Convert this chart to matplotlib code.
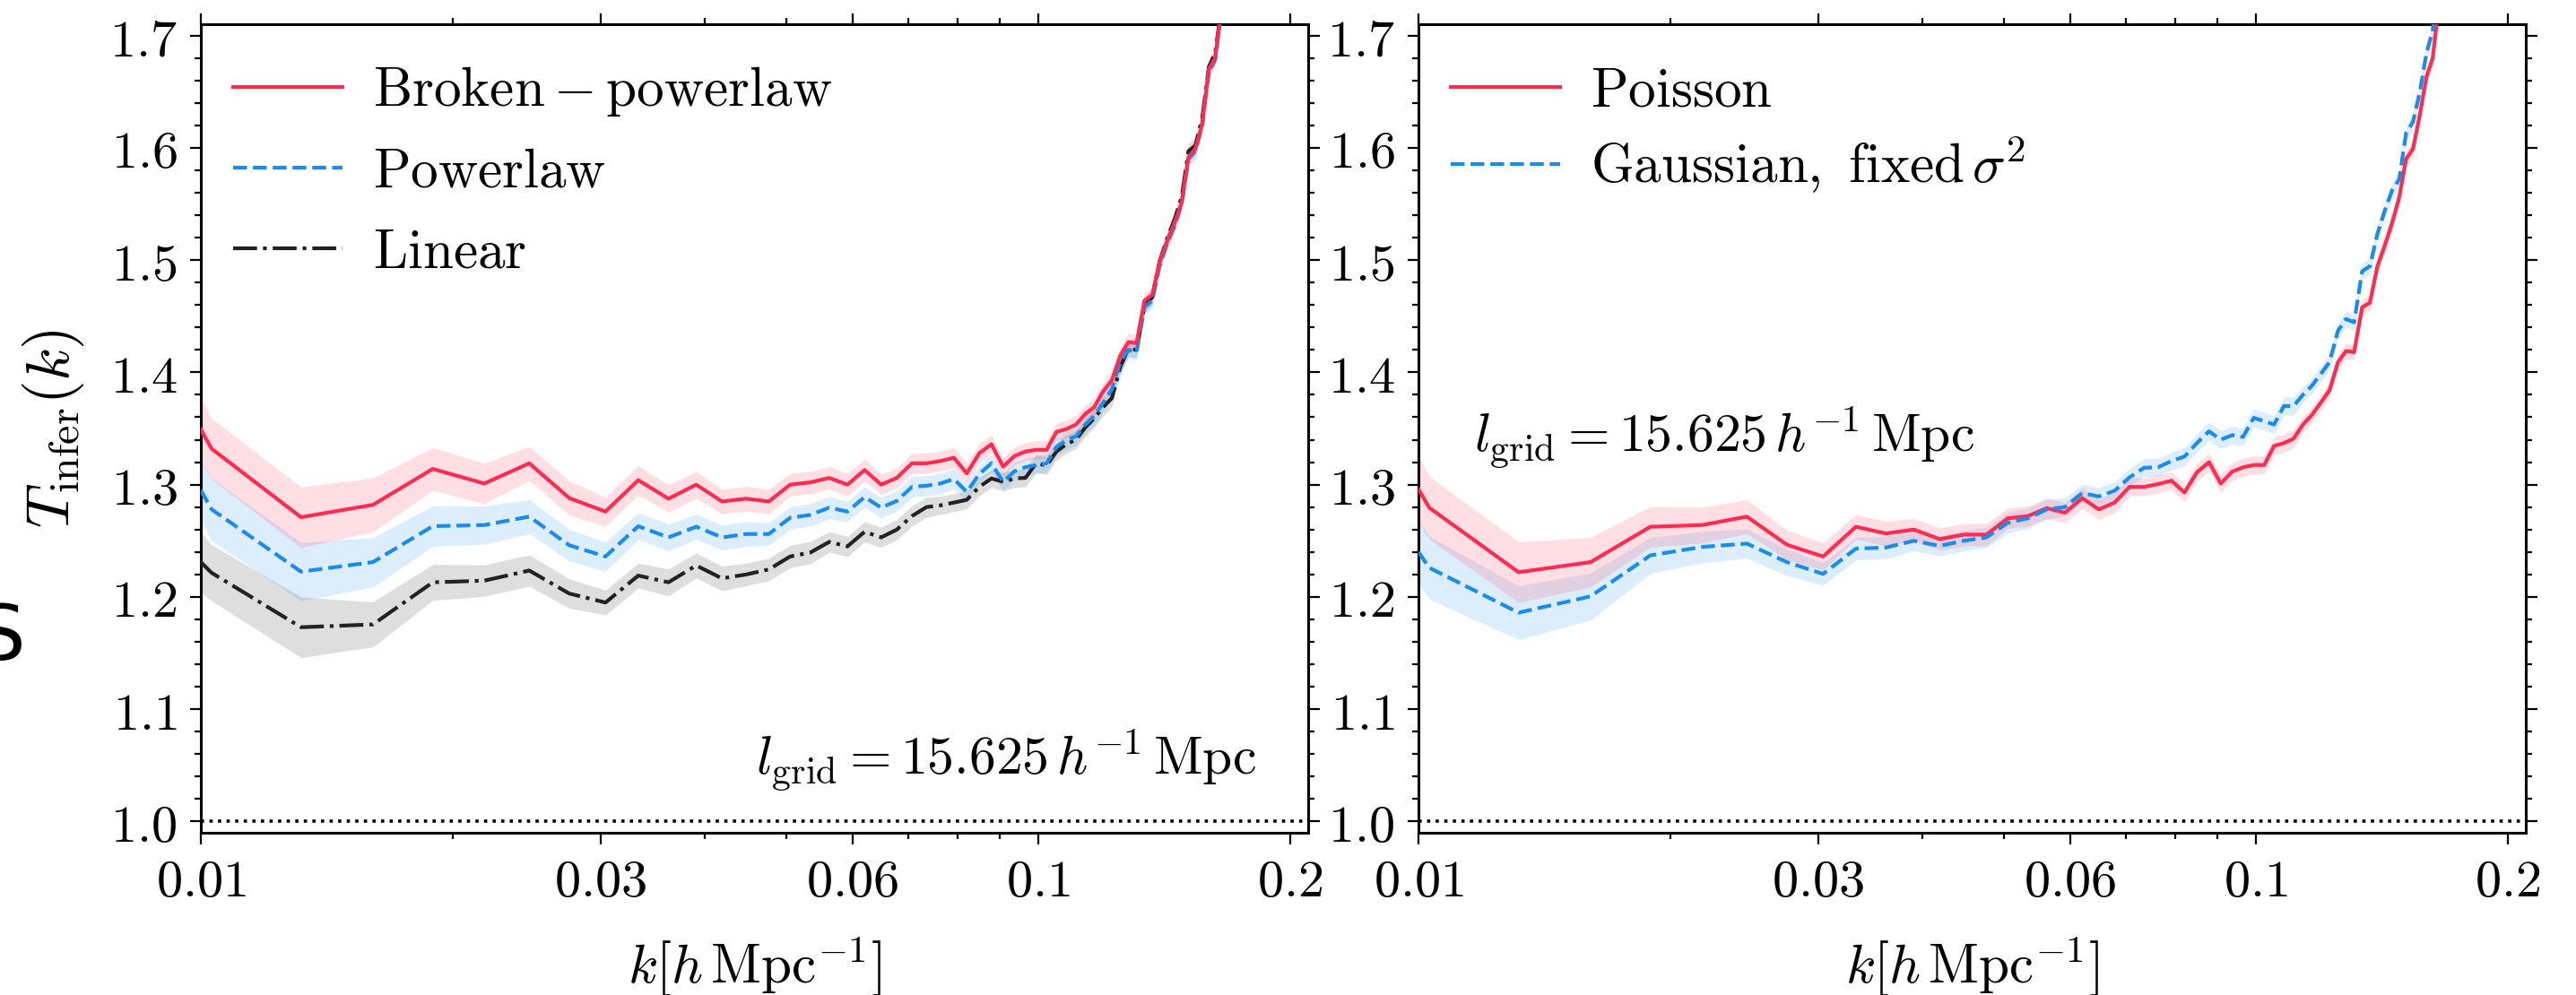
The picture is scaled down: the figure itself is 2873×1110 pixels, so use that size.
import matplotlib
matplotlib.use("Agg")
import matplotlib.pyplot as plt
from matplotlib.ticker import MultipleLocator, NullFormatter

plt.rcParams['mathtext.fontset'] = 'cm'
plt.rcParams['font.family'] = ['DejaVu Sans']

# ---------------- data ----------------
k = [0.0100,
     0.0103, 0.01317, 0.01605, 0.01892, 0.0218, 0.02467, 0.02754, 0.03042, 0.03329, 0.03617,
     0.03904, 0.04191, 0.04479, 0.04766, 0.05054, 0.05341, 0.05628, 0.05916, 0.06203, 0.06491,
     0.06778, 0.07065, 0.07353, 0.0764, 0.07928, 0.08215, 0.08502, 0.0879, 0.09077, 0.09365,
     0.09652, 0.09939, 0.1023, 0.1051, 0.108, 0.1109, 0.1138, 0.1166, 0.1195, 0.1224,
     0.1253, 0.1281, 0.131, 0.1339, 0.1368, 0.1396, 0.1425, 0.1454, 0.1483, 0.1511,
     0.154, 0.1569, 0.1598, 0.1626, 0.1655, 0.1684]

# left panel: Broken-powerlaw
t_bpl = [1.349,
         1.332, 1.271, 1.282, 1.314, 1.301, 1.319, 1.288, 1.276, 1.304, 1.2875,
         1.300, 1.285, 1.2875, 1.285, 1.300, 1.302, 1.306, 1.300, 1.313, 1.300,
         1.306, 1.319, 1.319, 1.321, 1.324, 1.310, 1.328, 1.336, 1.316, 1.3255,
         1.3295, 1.331, 1.331, 1.347, 1.3495, 1.3535, 1.363, 1.369, 1.383, 1.393,
         1.415, 1.427, 1.426, 1.464, 1.469, 1.499, 1.517, 1.533, 1.551, 1.592,
         1.599, 1.621, 1.670, 1.680, 1.725, 1.80]
e_bpl = [0.029,
         0.027, 0.027, 0.024, 0.019, 0.018, 0.015, 0.015, 0.013, 0.013, 0.012,
         0.012, 0.011, 0.011, 0.011, 0.010, 0.010, 0.010, 0.010, 0.010, 0.009,
         0.009, 0.009, 0.009, 0.009, 0.009, 0.009, 0.009, 0.008, 0.008, 0.008,
         0.008, 0.008, 0.008, 0.008, 0.008, 0.008, 0.008, 0.008, 0.008, 0.008,
         0.008, 0.008, 0.007, 0.007, 0.007, 0.007, 0.007, 0.007, 0.007, 0.007,
         0.007, 0.007, 0.007, 0.007, 0.007, 0.007]

# left panel: Powerlaw
t_pl = [1.295,
        1.278, 1.2225, 1.231, 1.263, 1.264, 1.2715, 1.246, 1.236, 1.263, 1.253,
        1.2625, 1.253, 1.256, 1.256, 1.2705, 1.273, 1.2795, 1.276, 1.289, 1.2795,
        1.2855, 1.298, 1.299, 1.301, 1.305, 1.2935, 1.3095, 1.319, 1.3025, 1.312,
        1.3155, 1.3175, 1.319, 1.3335, 1.3395, 1.343, 1.3535, 1.361, 1.373, 1.385,
        1.409, 1.420, 1.418, 1.458, 1.464, 1.495, 1.515, 1.530, 1.550, 1.590,
        1.597, 1.620, 1.668, 1.678, 1.722, 1.80]
e_pl = [0.027,
        0.028, 0.026, 0.022, 0.018, 0.017, 0.015, 0.014, 0.013, 0.012, 0.012,
        0.011, 0.011, 0.011, 0.010, 0.010, 0.010, 0.010, 0.009, 0.009, 0.009,
        0.009, 0.009, 0.009, 0.009, 0.009, 0.008, 0.008, 0.008, 0.008, 0.008,
        0.008, 0.008, 0.008, 0.008, 0.008, 0.008, 0.008, 0.008, 0.008, 0.008,
        0.008, 0.007, 0.007, 0.007, 0.007, 0.007, 0.007, 0.007, 0.007, 0.007,
        0.007, 0.007, 0.007, 0.007, 0.007, 0.007]

# left panel: Linear
t_lin = [1.231,
         1.2215, 1.173, 1.1755, 1.213, 1.2145, 1.2235, 1.203, 1.195, 1.219, 1.213,
         1.228, 1.2165, 1.220, 1.2245, 1.236, 1.2395, 1.249, 1.245, 1.258, 1.253,
         1.260, 1.272, 1.280, 1.2815, 1.284, 1.2865, 1.298, 1.3055, 1.3025, 1.3055,
         1.306, 1.319, 1.317, 1.3295, 1.336, 1.340, 1.351, 1.359, 1.369, 1.377,
         1.405, 1.421, 1.420, 1.460, 1.467, 1.499, 1.519, 1.536, 1.556, 1.597,
         1.602, 1.626, 1.672, 1.684, 1.726, 1.80]
e_lin = [0.027,
         0.025, 0.027, 0.020, 0.016, 0.014, 0.014, 0.013, 0.011, 0.011, 0.012,
         0.011, 0.011, 0.010, 0.010, 0.010, 0.010, 0.009, 0.009, 0.009, 0.009,
         0.009, 0.009, 0.009, 0.008, 0.008, 0.008, 0.008, 0.008, 0.008, 0.008,
         0.008, 0.008, 0.008, 0.008, 0.008, 0.008, 0.008, 0.008, 0.008, 0.008,
         0.008, 0.007, 0.007, 0.007, 0.007, 0.007, 0.007, 0.007, 0.007, 0.007,
         0.007, 0.007, 0.007, 0.007, 0.007, 0.007]

# right panel: Poisson
t_poi = [1.296,
         1.2795, 1.222, 1.231, 1.2625, 1.264, 1.2715, 1.2465, 1.236, 1.2625, 1.2565,
         1.260, 1.2515, 1.2555, 1.2555, 1.270, 1.272, 1.279, 1.275, 1.288, 1.278,
         1.284, 1.298, 1.298, 1.3005, 1.3035, 1.293, 1.311, 1.320, 1.301, 1.3115,
         1.3155, 1.3175, 1.3175, 1.3345, 1.337, 1.341, 1.3535, 1.362, 1.373, 1.384,
         1.409, 1.419, 1.418, 1.458, 1.462, 1.494, 1.513, 1.533, 1.556, 1.590,
         1.599, 1.629, 1.663, 1.680, 1.73, 1.80]
e_poi = [0.029,
         0.028, 0.027, 0.022, 0.018, 0.016, 0.015, 0.013, 0.012, 0.011, 0.011,
         0.010, 0.010, 0.010, 0.010, 0.009, 0.009, 0.009, 0.009, 0.009, 0.009,
         0.009, 0.008, 0.008, 0.008, 0.008, 0.008, 0.008, 0.008, 0.008, 0.008,
         0.008, 0.008, 0.008, 0.008, 0.008, 0.008, 0.007, 0.007, 0.007, 0.007,
         0.007, 0.007, 0.007, 0.007, 0.007, 0.007, 0.007, 0.007, 0.007, 0.007,
         0.007, 0.007, 0.007, 0.007, 0.007, 0.007]

# right panel: Gaussian, fixed sigma^2
t_gau = [1.240,
         1.226, 1.186, 1.2005, 1.237, 1.2445, 1.2475, 1.231, 1.2205, 1.243, 1.244,
         1.250, 1.2455, 1.250, 1.253, 1.266, 1.270, 1.278, 1.280, 1.2925, 1.2895,
         1.2945, 1.3065, 1.315, 1.3155, 1.321, 1.325, 1.337, 1.3475, 1.340, 1.344,
         1.3425, 1.3595, 1.3565, 1.3535, 1.370, 1.370, 1.380, 1.388, 1.3985, 1.409,
         1.437, 1.4475, 1.4445, 1.490, 1.4945, 1.523, 1.544, 1.562, 1.572, 1.613,
         1.623, 1.6495, 1.684, 1.705, 1.76, 1.84]
e_gau = [0.028,
         0.028, 0.024, 0.021, 0.016, 0.014, 0.013, 0.012, 0.010, 0.010, 0.010,
         0.009, 0.009, 0.009, 0.009, 0.009, 0.009, 0.009, 0.008, 0.008, 0.008,
         0.008, 0.008, 0.008, 0.008, 0.008, 0.008, 0.008, 0.008, 0.008, 0.008,
         0.008, 0.008, 0.008, 0.008, 0.008, 0.008, 0.007, 0.007, 0.007, 0.007,
         0.007, 0.007, 0.007, 0.007, 0.007, 0.007, 0.007, 0.007, 0.007, 0.007,
         0.007, 0.007, 0.007, 0.007, 0.007, 0.007]

xticks_major = [0.01, 0.03, 0.06, 0.1, 0.2]
xtick_labels = ['$0.01$', '$0.03$', '$0.06$', '$0.1$', '$0.2$']
xticks_minor = [0.02, 0.04, 0.05, 0.07, 0.08, 0.09]
yticks = [1.0, 1.1, 1.2, 1.3, 1.4, 1.5, 1.6, 1.7]
ytick_labels = ['$1.0$', '$1.1$', '$1.2$', '$1.3$', '$1.4$', '$1.5$', '$1.6$', '$1.7$']

left_labels = [r'$\mathrm{Broken-powerlaw}$', r'$\mathrm{Powerlaw}$', r'$\mathrm{Linear}$']
right_labels = [r'$\mathrm{Poisson}$', r'$\mathrm{Gaussian,\ fixed}\,\sigma^2$']
annot = r'$l_{\rm grid}=15.625\,h^{-1}\,{\rm Mpc}$'

# ---------------- style ----------------
RED = '#FF2B50'
BLUE = '#1A8CEC'
BLACK = '#222222'
W, H = 2873, 1110

fig = plt.figure(figsize=(W / 100, H / 100), dpi=100)
axL = fig.add_axes([224 / W, 181 / H, 1235 / W, 902 / H])
axR = fig.add_axes([1582 / W, 181 / H, 1235 / W, 902 / H])


def band(ax, y, e, color, alpha, z):
    lo = [a - b for a, b in zip(y, e)]
    hi = [a + b for a, b in zip(y, e)]
    ax.fill_between(k, lo, hi, color=color, alpha=alpha, lw=0, zorder=z)


# left panel
band(axL, t_lin, e_lin, BLACK, 0.15, 1)
band(axL, t_pl, e_pl, BLUE, 0.15, 1)
band(axL, t_bpl, e_bpl, RED, 0.15, 1)
l3, = axL.plot(k, t_lin, color=BLACK, ls='-.', lw=3, zorder=3)
l2, = axL.plot(k, t_pl, color=BLUE, ls='--', lw=3, zorder=4)
l1, = axL.plot(k, t_bpl, color=RED, ls='-', lw=3, zorder=5)

# right panel
band(axR, t_gau, e_gau, BLUE, 0.15, 1)
band(axR, t_poi, e_poi, RED, 0.15, 1)
r1, = axR.plot(k, t_poi, color=RED, ls='-', lw=3, zorder=4)
r2, = axR.plot(k, t_gau, color=BLUE, ls='--', lw=3, zorder=5)

for ax in (axL, axR):
    ax.axhline(1.0, color='black', ls=':', lw=2.6, zorder=2)
    ax.set_xscale('log')
    ax.set_xlim(0.01, 0.21)
    ax.set_ylim(0.99, 1.71)
    ax.set_xticks(xticks_major)
    ax.set_xticklabels(xtick_labels)
    ax.set_xticks(xticks_minor, minor=True)
    ax.xaxis.set_minor_formatter(NullFormatter())
    ax.set_yticks(yticks)
    ax.set_yticklabels(ytick_labels)
    ax.yaxis.set_minor_locator(MultipleLocator(0.02))
    ax.tick_params(which='both', direction='out', top=True, right=True,
                   labelsize=42, width=1.6)
    ax.tick_params(which='major', length=9, pad=10)
    ax.tick_params(which='minor', length=5)
    for s in ax.spines.values():
        s.set_linewidth(2.2)
    ax.set_xlabel(r'$k[h\,{\rm Mpc}^{-1}]$', fontsize=44)
    ax.xaxis.set_label_coords(0.5, -0.125)

axL.set_ylabel(r'$T_{\rm infer}(k)$', fontsize=49)
axL.yaxis.set_label_coords(-0.104, 0.5)

legL = axL.legend([l1, l2, l3], left_labels, loc='upper left', bbox_to_anchor=(0.029, 0.95),
                  frameon=False, fontsize=44, handlelength=2.0, handletextpad=0.55,
                  labelspacing=0.5, borderpad=0, borderaxespad=0)
legR = axR.legend([r1, r2], right_labels, loc='upper left', bbox_to_anchor=(0.029, 0.95),
                  frameon=False, fontsize=44, handlelength=2.0, handletextpad=0.55,
                  labelspacing=0.30, borderpad=0, borderaxespad=0)

axL.text(0.953, 0.073, annot, transform=axL.transAxes, ha='right', va='baseline', fontsize=43)
axR.text(0.05, 0.473, annot, transform=axR.transAxes, ha='left', va='baseline', fontsize=43)

# cropped glyph at the very left edge of the source image
fig.text(28 / W, 1 - 736 / H, 'S', ha='right', va='baseline', fontsize=62,
         family=['DejaVu Sans'])

fig.savefig('out.png', dpi=100)
